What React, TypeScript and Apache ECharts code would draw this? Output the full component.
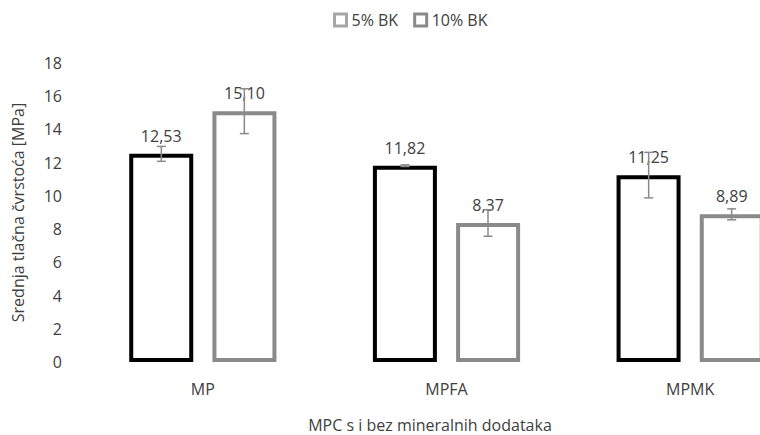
import React, { useEffect, useRef } from "react";
import * as echarts from "echarts";

const categories = ["MP", "MPFA", "MPMK"];
const seriesNames = ["5% BK", "10% BK"];
const values5 = [12.53, 11.82, 11.25];
const values10 = [15.1, 8.37, 8.89];
const errors5 = [0.45, 0.05, 1.37];
const errors10 = [1.35, 0.8, 0.33];
const yTicks = { min: 0, max: 18, interval: 2 };
const yAxisTitle = "Srednja tlačna čvrstoća [MPa]";
const xAxisTitle = "MPC s i bez mineralnih dodataka";

const FONT = "'Open Sans', 'Noto Sans', sans-serif";
const FS = 16;
const TEXT = "#404040";
const GRAY = "#8a8a8a";

function errorSeries(values: number[], errors: number[], offset: number) {
  return {
    type: "custom",
    coordinateSystem: "cartesian2d",
    z: 5,
    silent: true,
    clip: false,
    encode: { x: 0, y: [1, 2] },
    data: values.map((v, i) => [i, v - errors[i], v + errors[i]]),
    renderItem: (params: any, api: any) => {
      const ci = api.value(0);
      const top = api.coord([ci, api.value(2)]);
      const bot = api.coord([ci, api.value(1)]);
      const x = top[0] + offset;
      const cap = 4.5;
      const style = { stroke: GRAY, lineWidth: 1.5, fill: "none" };
      return {
        type: "group",
        children: [
          { type: "line", shape: { x1: x, y1: top[1], x2: x, y2: bot[1] }, style },
          { type: "line", shape: { x1: x - cap, y1: top[1], x2: x + cap, y2: top[1] }, style },
          { type: "line", shape: { x1: x - cap, y1: bot[1], x2: x + cap, y2: bot[1] }, style },
        ],
      };
    },
  };
}

export default function App() {
  const ref = useRef<HTMLDivElement>(null);
  useEffect(() => {
    if (!ref.current) return;
    const chart = echarts.init(ref.current, null, { renderer: "svg" });
    const labelFmt = (p: any) => Number(p.value).toFixed(2).replace(".", ",");
    chart.setOption({
      animation: false,
      backgroundColor: "#ffffff",
      textStyle: { fontFamily: FONT },
      legend: {
        left: 328,
        top: 7,
        itemWidth: 12,
        itemHeight: 12,
        itemGap: 15,
        textStyle: { fontFamily: FONT, fontSize: FS, color: TEXT },
        data: [
          { name: seriesNames[0], icon: "rect", itemStyle: { color: "#fff", borderColor: "#a6a6a6", borderWidth: 3 } },
          { name: seriesNames[1], icon: "rect", itemStyle: { color: "#fff", borderColor: GRAY, borderWidth: 3 } },
        ],
      },
      grid: { left: 81, top: 63, width: 731, height: 299, containLabel: false, outerBoundsMode: "none" },
      xAxis: {
        type: "category",
        data: categories,
        axisLine: { show: false },
        axisTick: { show: false },
        axisLabel: { fontFamily: FONT, fontSize: FS, color: TEXT, margin: 19 },
      },
      yAxis: {
        type: "value",
        min: yTicks.min,
        max: yTicks.max,
        interval: yTicks.interval,
        splitLine: { show: false },
        axisLine: { show: false },
        axisTick: { show: false },
        axisLabel: { fontFamily: FONT, fontSize: FS, color: TEXT, margin: 19 },
        name: yAxisTitle,
        nameLocation: "middle",
        nameGap: 55,
        nameTextStyle: { fontFamily: FONT, fontSize: FS, color: TEXT },
      },
      graphic: [
        {
          type: "text",
          x: 430,
          y: 425,
          style: {
            text: xAxisTitle,
            fontFamily: FONT,
            fontSize: FS,
            fill: TEXT,
            textAlign: "center",
            textVerticalAlign: "middle",
          },
        },
      ],
      series: [
        {
          name: seriesNames[0],
          type: "bar",
          data: values5,
          barWidth: 64,
          barGap: "30%",
          itemStyle: { color: "#ffffff", borderColor: "#000000", borderWidth: 4 },
          label: { show: true, position: "top", distance: 10, formatter: labelFmt, fontFamily: FONT, fontSize: FS, color: TEXT },
        },
        {
          name: seriesNames[1],
          type: "bar",
          data: values10,
          barWidth: 64,
          barGap: "30%",
          itemStyle: { color: "#ffffff", borderColor: GRAY, borderWidth: 4 },
          label: { show: true, position: "top", distance: 10, formatter: labelFmt, fontFamily: FONT, fontSize: FS, color: TEXT },
        },
        errorSeries(values5, errors5, -41.5),
        errorSeries(values10, errors10, 41.5),
      ],
    });
    return () => chart.dispose();
  }, []);
  return <div ref={ref} style={{ position: "absolute", left: 0, top: 0, width: 760, height: 435 }} />;
}
